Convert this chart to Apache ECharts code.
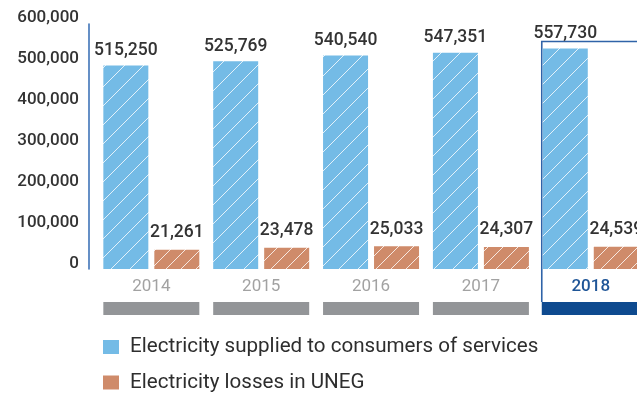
<!DOCTYPE html>
<html>
<head>
<meta charset="utf-8">
<script src="https://cdn.jsdelivr.net/npm/echarts@6/dist/echarts.min.js"></script>
<style>
  html, body { margin: 0; padding: 0; background: #ffffff; }
  #chart { width: 637px; height: 394px; }
</style>
</head>
<body>
<div id="chart"></div>
<script>
// Yearly figures
const years = ['2014', '2015', '2016', '2017', '2018'];
const supplied = [515250, 525769, 540540, 547351, 557730];
const losses = [21261, 23478, 25033, 24307, 24539];
const yTicks = [0, 100000, 200000, 300000, 400000, 500000, 600000];
const seriesNames = ['Electricity supplied to consumers of services', 'Electricity losses in UNEG'];
const highlightYear = '2018';

const BLUE = '#74bbe6';
const ORANGE = '#cf8b6a';
const FONT = 'Roboto, "Noto Sans", sans-serif';

// Diagonal white hatching over a solid fill
function hatch(color, step) {
  const c = document.createElement('canvas');
  c.width = step; c.height = step;
  const ctx = c.getContext('2d');
  ctx.fillStyle = color;
  ctx.fillRect(0, 0, step, step);
  ctx.strokeStyle = 'rgba(255,255,255,0.8)';
  ctx.lineWidth = 1;
  ctx.beginPath();
  ctx.moveTo(0, step); ctx.lineTo(step, 0);
  ctx.moveTo(-2, 2); ctx.lineTo(2, -2);
  ctx.moveTo(step - 2, step + 2); ctx.lineTo(step + 2, step - 2);
  ctx.stroke();
  return { image: c, repeat: 'repeat' };
}

const fmt = v => Number(v).toLocaleString('en-US');
const hiIndex = years.indexOf(highlightYear);

function legendBlock(name, color, top) {
  return {
    orient: 'vertical',
    left: 98,
    top: top,
    itemWidth: 16,
    itemHeight: 14,
    icon: 'rect',
    textStyle: { fontSize: 20.6, fontFamily: FONT, color: '#2e2e2e', padding: [0, 0, 0, 6] },
    data: [{ name: name, itemStyle: { color: color } }]
  };
}

const chart = echarts.init(document.getElementById('chart'), null, { renderer: 'canvas' });

const gridBox = { left: 96.4, right: -8.7, containLabel: false, outerBoundsMode: 'none' };

chart.setOption({
  animation: false,
  textStyle: { fontFamily: FONT },
  grid: [
    // plotting area
    Object.assign({ top: 24, bottom: 125 }, gridBox),
    // scale labels, set slightly above the tick positions
    Object.assign({ top: 17.5, bottom: 130 }, gridBox)
  ],
  xAxis: [
    {
      type: 'category',
      gridIndex: 0,
      data: years,
      axisLine: { show: false },
      axisTick: { show: false },
      axisLabel: {
        margin: 9,
        fontSize: 17,
        fontFamily: FONT,
        formatter: v => (v === highlightYear ? '{hi|' : '{n|') + v + '}',
        rich: {
          n: { fontSize: 17, fontFamily: FONT, color: '#a2a2a2' },
          hi: { fontSize: 17, fontFamily: FONT, fontWeight: 500, color: '#1f5597' }
        }
      }
    },
    { type: 'category', gridIndex: 1, data: years, show: false }
  ],
  yAxis: [
    {
      // axis line of the plotting area
      type: 'value',
      gridIndex: 0,
      min: 0, max: 600000, interval: 100000,
      offset: 7.4,
      splitLine: { show: false },
      axisTick: { show: false },
      axisLabel: { show: false },
      axisLine: { show: true, lineStyle: { color: '#3f74b8', width: 1.6 } }
    },
    { type: 'value', gridIndex: 0, min: 0, max: 620000, show: false },
    { type: 'value', gridIndex: 0, min: 0, max: 270000, show: false },
    {
      // scale labels
      type: 'value',
      gridIndex: 1,
      min: 0, max: 600000, interval: 100000,
      offset: 7.4,
      splitLine: { show: false },
      axisTick: { show: false },
      axisLine: { show: false },
      axisLabel: {
        margin: 10,
        fontSize: 17,
        fontWeight: 500,
        fontFamily: FONT,
        color: '#333333',
        customValues: yTicks,
        formatter: fmt
      }
    }
  ],
  legend: [
    legendBlock(seriesNames[0], BLUE, 331.5),
    legendBlock(seriesNames[1], ORANGE, 367)
  ],
  series: [
    {
      name: seriesNames[0],
      type: 'bar',
      yAxisIndex: 1,
      barWidth: 45,
      barGap: '13.3%',
      data: supplied,
      itemStyle: { color: hatch(BLUE, 19) },
      label: {
        show: true, position: 'top', distance: 6,
        fontSize: 17.5, fontWeight: 500, fontFamily: FONT, color: '#333333',
        formatter: p => fmt(p.value)
      }
    },
    {
      name: seriesNames[1],
      type: 'bar',
      yAxisIndex: 2,
      barWidth: 45,
      data: losses,
      itemStyle: { color: hatch(ORANGE, 15) },
      label: {
        show: true, position: 'top', distance: 8,
        fontSize: 17.5, fontWeight: 500, fontFamily: FONT, color: '#333333',
        formatter: p => fmt(p.value)
      }
    },
    {
      // year tabs under the axis, plus the frame around the highlighted year
      type: 'custom',
      yAxisIndex: 1,
      clip: false,
      silent: true,
      z: 1,
      data: years.map((y, i) => [i, 0]),
      renderItem: (params, api) => {
        const i = api.value(0);
        const base = api.coord([i, 0]);
        const band = api.size([1, 0])[0];
        const hi = i === hiIndex;
        const x0 = base[0] - (hi ? 49 : 48);
        const w = hi ? band : 96;
        const children = [{
          type: 'rect',
          shape: { x: x0, y: base[1] + 33, width: w, height: 13 },
          style: { fill: hi ? '#0e4a8f' : '#939598' }
        }];
        if (hi) {
          const top = base[1] - 227.5;
          children.push({
            type: 'polyline',
            shape: { points: [[x0, base[1] + 33], [x0, top], [x0 + band + 20, top]] },
            style: { fill: null, stroke: '#2f63a8', lineWidth: 1.6 }
          });
        }
        return { type: 'group', children };
      }
    }
  ]
});
</script>
</body>
</html>
